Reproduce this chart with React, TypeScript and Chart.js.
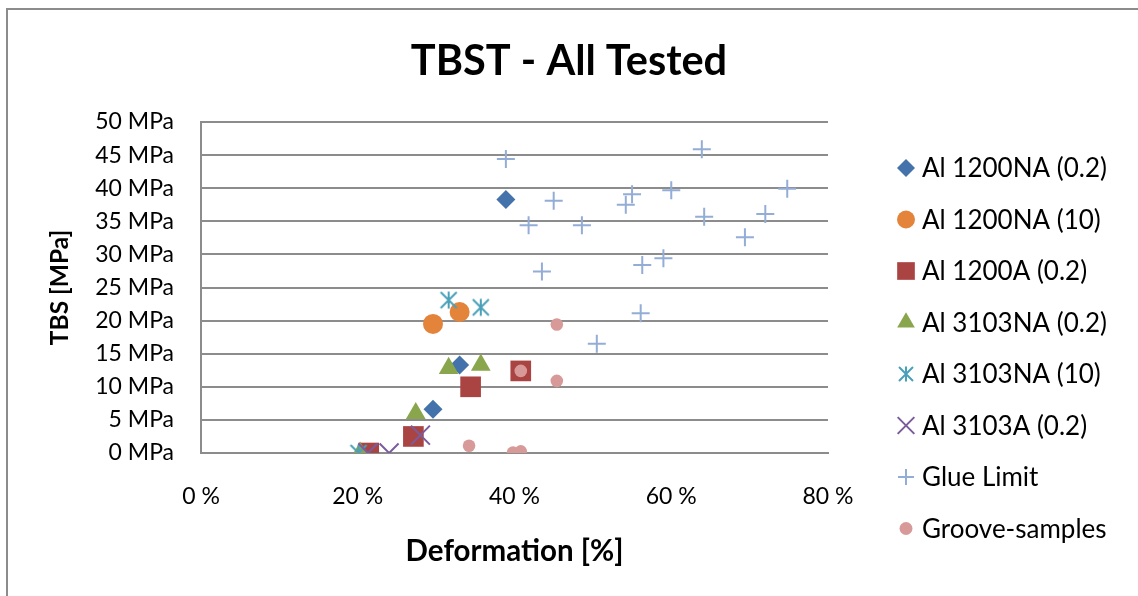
import { useEffect, useRef } from 'react';
import { Chart, registerables } from 'chart.js';
import { drawPoint } from 'chart.js/helpers';

Chart.register(...registerables);

// Series names (legend order)
const seriesNames = [
  'Al 1200NA (0.2)',
  'Al 1200NA (10)',
  'Al 1200A (0.2)',
  'Al 3103NA (0.2)',
  'Al 3103NA (10)',
  'Al 3103A (0.2)',
  'Glue Limit',
  'Groove-samples',
];

// Deformation [%] / TBS [MPa] per series
const al1200na02Def = [38.9, 33.0, 29.6];
const al1200na02Tbs = [38.3, 13.3, 6.6];

const al1200na10Def = [29.6, 33.0];
const al1200na10Tbs = [19.5, 21.3];

const al1200a02Def = [40.8, 34.4, 27.1, 21.4];
const al1200a02Tbs = [12.4, 10.0, 2.5, 0];

const al3103na02Def = [31.6, 35.7, 27.4, 20.3];
const al3103na02Tbs = [12.8, 13.3, 6.0, 0];

const al3103na10Def = [31.6, 35.7, 20.1];
const al3103na10Tbs = [23.1, 22.0, 0];

const al3103a02Def = [28.0, 21.3, 24.0];
const al3103a02Tbs = [2.7, 0, 0];

const glueLimitDef = [38.9, 63.9, 55.0, 60.0, 74.8, 45.0, 54.2, 41.8, 48.6, 64.2, 72.0, 69.4, 43.5, 56.3, 59.0, 56.1, 50.5];
const glueLimitTbs = [44.4, 45.9, 39.1, 39.7, 39.9, 38.1, 37.5, 34.4, 34.4, 35.7, 36.1, 32.6, 27.4, 28.4, 29.4, 21.1, 16.5];

const grooveDef = [45.4, 40.8, 45.4, 34.2, 39.8, 40.8];
const grooveTbs = [19.4, 12.4, 10.9, 1.1, 0.05, 0.25];

const xTickValues = [0, 20, 40, 60, 80];
const yTickValues = [0, 5, 10, 15, 20, 25, 30, 35, 40, 45, 50];

const seriesDef = [al1200na02Def, al1200na10Def, al1200a02Def, al3103na02Def, al3103na10Def, al3103a02Def, glueLimitDef, grooveDef];
const seriesTbs = [al1200na02Tbs, al1200na10Tbs, al1200a02Tbs, al3103na02Tbs, al3103na10Tbs, al3103a02Tbs, glueLimitTbs, grooveTbs];

const GRID = '#8c8c8c';
const FONT = 'Lato';

// Asterisk marker (vertical bar plus diagonals) drawn on a small canvas
function makeAsterisk(size: number, color: string, lw: number) {
  const c = document.createElement('canvas');
  c.width = size;
  c.height = size;
  const g = c.getContext('2d')!;
  g.strokeStyle = color;
  g.lineWidth = lw;
  g.lineCap = 'butt';
  const m = size / 2;
  const e = 1.5;
  g.beginPath();
  g.moveTo(m, e);
  g.lineTo(m, size - e);
  g.moveTo(e + 0.5, e + 0.5);
  g.lineTo(size - e - 0.5, size - e - 0.5);
  g.moveTo(size - e - 0.5, e + 0.5);
  g.lineTo(e + 0.5, size - e - 0.5);
  g.stroke();
  return c;
}

export default function App() {
  const ref = useRef<HTMLCanvasElement | null>(null);

  useEffect(() => {
    const canvas = ref.current;
    if (!canvas) return;

    const teal = '#4aa0b8';
    const styles: any[] = [
      { pointStyle: 'rectRot', radius: 9.5, color: '#4472aa', borderWidth: 0, legendRadius: 9 },
      { pointStyle: 'circle', radius: 10, color: '#e3843a', borderWidth: 0, legendRadius: 9 },
      { pointStyle: 'rect', radius: 14.6, color: '#aa4442', borderWidth: 0, legendRadius: 12.5 },
      { pointStyle: 'triangle', radius: 11.4, color: '#8aa64c', borderWidth: 0, legendRadius: 10.2 },
      { pointStyle: makeAsterisk(20, teal, 2), radius: 10, color: teal, borderWidth: 2, legendStyle: makeAsterisk(18, teal, 2) },
      { pointStyle: 'crossRot', radius: 13.4, color: '#7a5c9e', borderWidth: 2, legendRadius: 11.8 },
      { pointStyle: 'cross', radius: 9, color: '#94add6', borderWidth: 2, legendRadius: 8 },
      { pointStyle: 'circle', radius: 6.3, color: '#d89a98', borderWidth: 0, legendRadius: 6.5 },
    ];

    const datasets = seriesNames.map((name, i) => ({
      label: name,
      data: seriesDef[i].map((x, k) => ({ x, y: seriesTbs[i][k] })),
      pointStyle: styles[i].pointStyle,
      pointRadius: styles[i].radius,
      backgroundColor: styles[i].color,
      borderColor: styles[i].color,
      pointBorderWidth: styles[i].borderWidth,
      showLine: false,
      order: -i,
    }));

    // Outer chart frame
    const frame = {
      id: 'frame',
      beforeDraw(chart: any) {
        const ctx = chart.ctx;
        ctx.save();
        ctx.strokeStyle = GRID;
        ctx.lineWidth = 2;
        ctx.strokeRect(7, 9, 1300, 800);
        ctx.restore();
      },
    };

    // Vertical legend to the right of the plot
    const seriesLegend = {
      id: 'seriesLegend',
      afterDraw(chart: any) {
        const ctx = chart.ctx;
        const mx = 906;
        const top = 168;
        const step = 51.5;
        ctx.save();
        chart.data.datasets.forEach((ds: any, i: number) => {
          const st = styles[i];
          const y = top + i * step;
          ctx.fillStyle = st.color;
          ctx.strokeStyle = st.color;
          ctx.lineWidth = st.borderWidth;
          drawPoint(ctx, {
            pointStyle: st.legendStyle || st.pointStyle,
            radius: st.legendRadius || 9,
            rotation: 0,
            borderWidth: st.borderWidth,
          } as any, mx, y);
          ctx.fillStyle = '#000';
          ctx.font = `26px ${FONT}`;
          ctx.textAlign = 'left';
          ctx.textBaseline = 'middle';
          ctx.fillText(ds.label, mx + 16, y + 1);
        });
        ctx.restore();
      },
    };

    const chart = new Chart(canvas, {
      type: 'scatter',
      data: { datasets },
      options: {
        responsive: false,
        animation: false,
        events: [],
        layout: { padding: 0 },
        plugins: {
          legend: { display: false },
          tooltip: { enabled: false },
          title: {
            display: true,
            text: 'TBST - All Tested',
            color: '#000',
            font: { family: FONT, size: 41.5, weight: 'bold' },
            padding: { top: 37, bottom: 35.2 },
          },
        },
        scales: {
          x: {
            type: 'linear',
            min: 0,
            max: 80,
            afterBuildTicks: (s: any) => {
              s.ticks = xTickValues.map((v) => ({ value: v }));
            },
            afterFit: (s: any) => {
              s.height = 143;
            },
            grid: { display: false, drawTicks: false },
            border: { display: true, color: GRID, width: 2 },
            ticks: {
              color: '#000',
              font: { family: FONT, size: 23 },
              padding: 30,
              maxRotation: 0,
              callback: (v: any) => `${v} %`,
            },
            title: {
              display: true,
              text: 'Deformation [%]',
              color: '#000',
              font: { family: FONT, size: 29.5, weight: 'bold' },
              padding: { top: 0, bottom: 27 },
            },
          },
          y: {
            type: 'linear',
            min: 0,
            max: 50,
            afterBuildTicks: (s: any) => {
              s.ticks = yTickValues.map((v) => ({ value: v }));
            },
            afterFit: (s: any) => {
              s.width = 201;
            },
            grid: { display: true, color: GRID, lineWidth: 2, drawTicks: false },
            border: { display: true, color: GRID, width: 2 },
            ticks: {
              color: '#000',
              font: { family: FONT, size: 23 },
              padding: 27,
              callback: (v: any) => `${v} MPa`,
            },
            title: {
              display: true,
              text: 'TBS [MPa]',
              color: '#000',
              font: { family: FONT, size: 24.5, weight: 'bold' },
              padding: { top: 45.5, bottom: 0 },
            },
          },
          // empty right-hand axis reserving room for the legend column
          legendSpace: {
            type: 'linear',
            position: 'right',
            display: true,
            grid: { display: false, drawTicks: false },
            border: { display: false },
            ticks: { display: false },
            afterFit: (s: any) => {
              s.width = 310;
            },
          },
        },
      } as any,
      plugins: [frame, seriesLegend],
    });

    return () => chart.destroy();
  }, []);

  return (
    <div style={{ position: 'fixed', left: 0, top: 0, width: 1138, height: 596, background: '#fff' }}>
      <canvas ref={ref} width={1138} height={596} style={{ display: 'block', width: 1138, height: 596 }} />
    </div>
  );
}
